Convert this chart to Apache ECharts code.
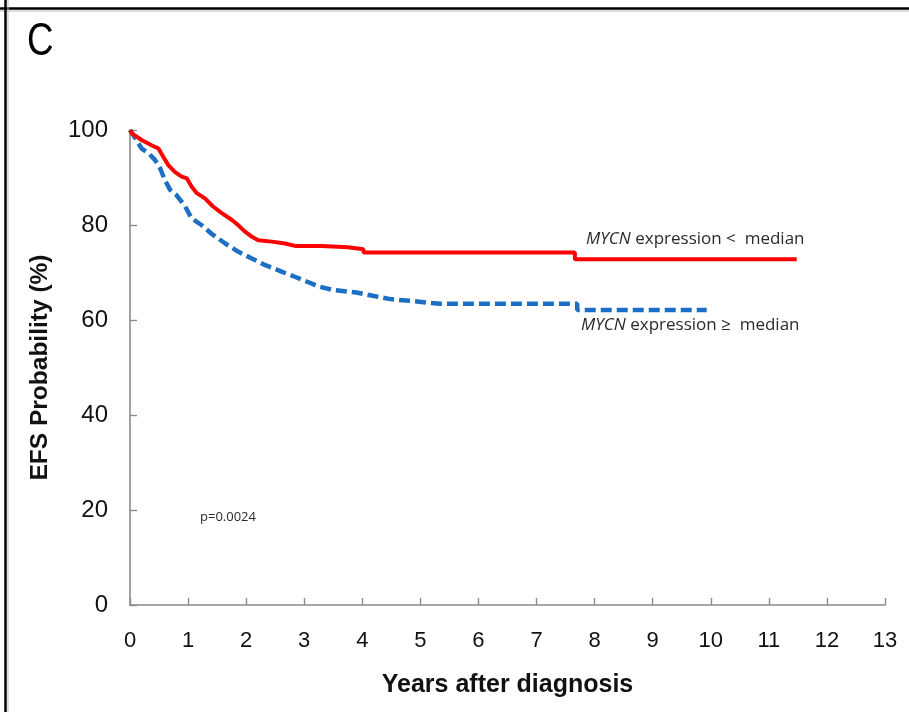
<!DOCTYPE html>
<html><head><meta charset="utf-8">
<script src="https://cdn.jsdelivr.net/npm/echarts@6/dist/echarts.min.js"></script>
<style>html,body{margin:0;padding:0;background:#fff}#c{width:909px;height:712px}</style>
</head><body><div id="c"></div>
<script>
// Kaplan-Meier estimates: [years, EFS %]
const lowSeries = [[0,100],[0.03,99.3],[0.2,97.9],[0.37,96.8],[0.49,96.1],[0.57,94.4],[0.66,92.6],[0.77,91.2],[0.89,90.2],[0.98,89.8],[1.06,88.1],[1.15,86.7],[1.29,85.6],[1.43,83.9],[1.58,82.5],[1.75,81.1],[1.86,80.0],[1.98,78.6],[2.09,77.6],[2.21,76.8],[2.44,76.5],[2.67,76.1],[2.84,75.6],[3.30,75.6],[3.30,75.3],[3.75,75.3],[3.75,74.9],[4.02,74.9],[4.02,74.2],[7.66,74.2],[7.66,72.8],[11.48,72.8]];
const highSeries = [[0,100],[0.06,98.9],[0.2,96.1],[0.32,95.1],[0.43,93.7],[0.52,91.9],[0.6,89.5],[0.69,87.4],[0.8,86.3],[0.95,83.9],[1.06,81.4],[1.23,80.0],[1.4,78.2],[1.64,76.1],[1.86,74.4],[2.09,73.0],[2.32,71.6],[2.61,70.2],[2.84,69.1],[3.04,68.1],[3.27,67.0],[3.5,66.3],[3.9,65.8],[4.18,65.1],[4.48,64.4],[4.94,63.9],[5.34,63.4],[7.7,63.4],[7.7,62.1],[9.93,62.1]];
const xTicks = {min:0, max:13, interval:1};
const yTicks = {min:0, max:100, interval:20};
const labelLow = "MYCN expression <  median";
const labelHigh = "MYCN expression \u2265  median";
const pValue = "p=0.0024";

const chart = echarts.init(document.getElementById('c'), null, {renderer:'canvas'});
const axisColor = '#8a8a8a';
const mkLabel = (s) => { const i = s.indexOf(' '); return '{i|' + s.slice(0,i) + '}{n|' + s.slice(i) + '}'; };
const labFont = {fontFamily:'Open Sans', fontSize:17, fill:'#2a2a2a'};
chart.setOption({
  animation:false,
  backgroundColor:'#fff',
  grid:{left:130, right:24, top:130, bottom:107},
  xAxis:{type:'value', min:xTicks.min, max:xTicks.max, interval:xTicks.interval,
    name:'Years after diagnosis', nameLocation:'middle', nameGap:68,
    nameTextStyle:{fontFamily:'Liberation Sans', fontWeight:'bold', fontSize:25, color:'#111'},
    axisLine:{lineStyle:{color:axisColor, width:1.6}},
    axisTick:{inside:true, length:7, lineStyle:{color:axisColor, width:1.4}},
    axisLabel:{margin:25, fontFamily:'Liberation Sans', fontSize:22, color:'#111'},
    splitLine:{show:false}},
  yAxis:{type:'value', min:yTicks.min, max:yTicks.max, interval:yTicks.interval,
    name:'EFS Probability (%)', nameLocation:'middle', nameGap:77,
    nameTextStyle:{fontFamily:'Liberation Sans', fontWeight:'bold', fontSize:24.5, color:'#111'},
    axisLine:{show:true, lineStyle:{color:axisColor, width:1.6}},
    axisTick:{show:true, inside:true, length:7, lineStyle:{color:axisColor, width:1.4}},
    axisLabel:{margin:22, fontFamily:'Liberation Sans', fontSize:24, color:'#111'},
    splitLine:{show:false}},
  series:[
    {type:'line', data:lowSeries, symbol:'none',
     lineStyle:{color:'#ff0000', width:4}, z:3},
    {type:'line', data:highSeries, symbol:'none',
     lineStyle:{color:'#1c6fc2', width:4.5, type:[11,5]}, z:2}
  ],
  graphic:[
    {type:'line', shape:{x1:0,y1:8.5,x2:909,y2:8.5}, style:{stroke:'#000', lineWidth:2.5}, silent:true},
    {type:'line', shape:{x1:0,y1:11,x2:909,y2:11}, style:{stroke:'#bbb', lineWidth:1}, silent:true},
    {type:'line', shape:{x1:5.5,y1:0,x2:5.5,y2:712}, style:{stroke:'#000', lineWidth:2.5}, silent:true},
    {type:'line', shape:{x1:8,y1:0,x2:8,y2:712}, style:{stroke:'#bbb', lineWidth:1}, silent:true},
    {type:'text', x:27, y:19, scaleX:0.8, style:{text:'C', fontFamily:'Liberation Sans', fontSize:46, fill:'#000', verticalAlign:'top'}},
    {type:'text', left:586, top:231, style:{text:mkLabel(labelLow), rich:{
      i:Object.assign({fontStyle:'italic'}, labFont), n:labFont}}},
    {type:'text', left:581, top:317, style:{text:mkLabel(labelHigh), rich:{
      i:Object.assign({fontStyle:'italic'}, labFont), n:labFont}}},
    {type:'text', left:200, top:511, style:{text:pValue, fontFamily:'Open Sans', fontSize:13, fill:'#2a2a2a'}}
  ]
});
</script></body></html>
